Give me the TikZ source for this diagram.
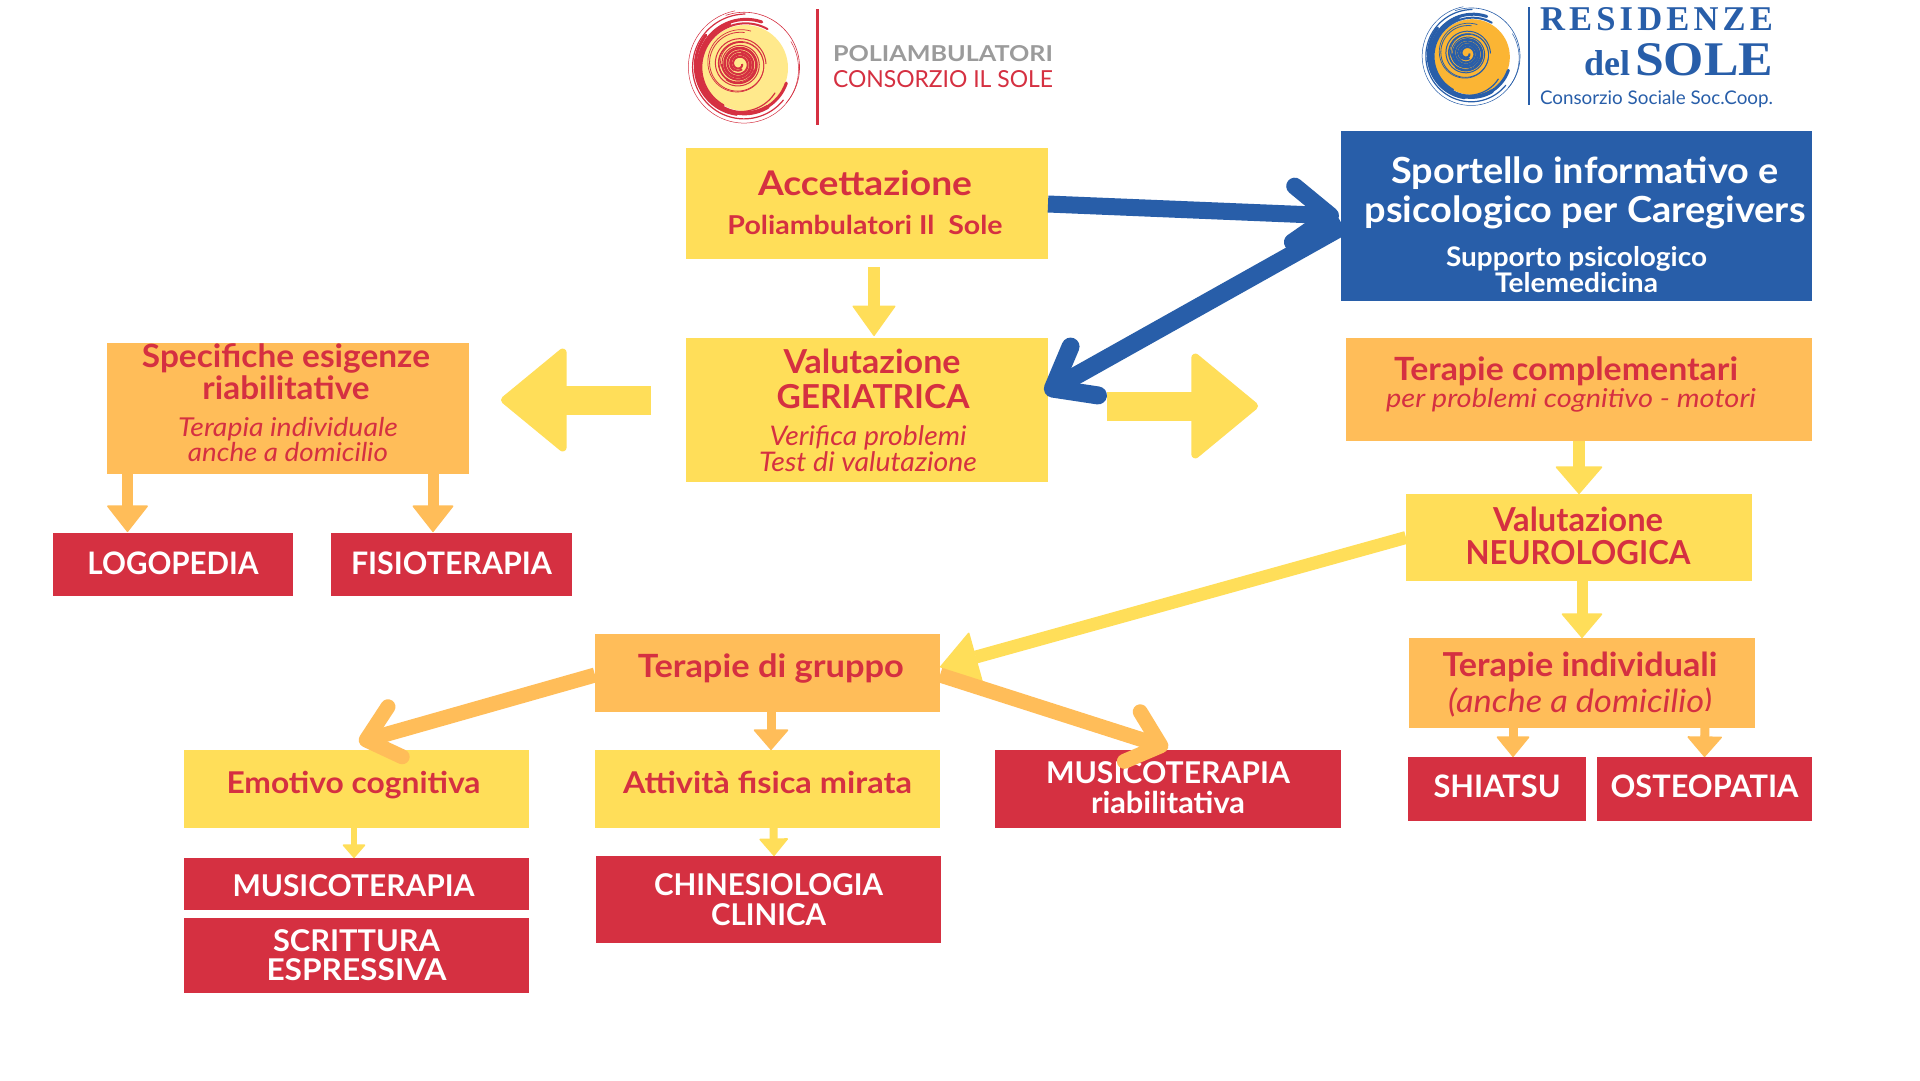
\documentclass[tikz,border=0pt]{standalone}
\usepackage{fontspec}
\setmainfont{Lato}
\newfontfamily\serifbold{Liberation Serif}
\usetikzlibrary{arrows.meta}
\definecolor{cyel}{HTML}{FFDE59}
\definecolor{cora}{HTML}{FFBD59}
\definecolor{cred}{HTML}{D53041}
\definecolor{cblu}{HTML}{285EA9}
\definecolor{cgry}{HTML}{9B9B9B}
\definecolor{lyel}{HTML}{FFE98C}
\definecolor{lora}{HTML}{FBB534}
% one line of text, placed by its baseline relative to the node centre, set to a given width
\newcommand\rl[6]{\raisebox{\dimexpr-#2pt-1pt\relax}[0pt][0pt]{\kern#1pt\makebox[0pt][c]{\resizebox{#3pt}{\height}{\fontsize{#4}{#4}\selectfont#5#6}}\kern-#1pt}}
\newcommand\bdf{\bfseries}
\newcommand\itf{\itshape}
\newcommand\sunlogo[5]{%
\begin{scope}[shift={(#1,#2)},scale=#3]
\fill[#5] (0,0) circle (43);
\foreach \a/\b/\r/\R/\w in {20/290/44/49/3, 60/250/45/47/4, 100/220/47/51/3, 40/270/50/54/1.2, -30/260/53/58/.5, 250/400/56/54/.6, 120/300/43/45/2, 40/110/39/45/1.2}{
 \draw[#4,line width=\w pt,line cap=round] plot[domain=\a:\b,samples=50,smooth] ({(\r+(\R-\r)*(\x-\a)/(\b-\a))*cos(\x)},{(\r+(\R-\r)*(\x-\a)/(\b-\a))*sin(\x)});
}
\begin{scope}[shift={(-6,-4)}]
\foreach \p/\rr/\RR/\w/\e in {0/3/17/2/900, 60/6/18/2/720, 130/8/20/1.8/720, 200/9/22/1.4/800, 280/12/27/1/800, 20/16/32/.8/620, 170/18/35/.7/480}{
 \draw[#4,line width=\w pt] plot[domain=0:\e,samples=90,smooth] ({(\rr+(\RR-\rr)*\x/\e)*cos(\x+\p)},{(\rr+(\RR-\rr)*\x/\e)*sin(\x+\p)});
}
\end{scope}
\end{scope}}
\tikzset{
 x=1pt,y=-1pt,
 boxy/.style n args={3}{rectangle,inner sep=0pt,outer sep=0pt,fill=#1,minimum width=#2pt,minimum height=#3pt},
 redtx/.style={text=cred},
 whtx/.style={text=white},
 block/.style n args={4}{draw=#1,line width=#2pt,-{Triangle[length=#3pt,width=#4pt,round,line width=1.5pt]}},
 bigblock/.style n args={4}{draw=#1,line width=#2pt,-{Triangle[length=#3pt,width=#4pt,round,line width=8pt]}},
 chev/.style n args={4}{draw=#1,line width=#2pt,-{Straight Barb[length=#3pt,width=#4pt,round]}},
 logotx/.style={inner sep=0pt,outer sep=0pt,anchor=base west},
}
\begin{document}
\begin{tikzpicture}
\useasboundingbox (0,0) rectangle (1920,1080);
\fill[white] (0,0) rectangle (1920,1080);
% logos
\sunlogo{745}{68}{1}{cred}{lyel}
\sunlogo{1472}{57}{.88}{cblu}{lora}
\coordinate (pb1) at (817,9); \coordinate (pb2) at (817,125);
\draw[cred,line width=3pt] (pb1) -- (pb2);
\coordinate (rb1) at (1529,7); \coordinate (rb2) at (1529,105);
\draw[cblu,line width=1.5pt] (rb1) -- (rb2);
\node[logotx,text=cgry] (lg1) at (833,61) {\resizebox{220pt}{16pt}{\bfseries POLIAMBULATORI}};
\node[logotx,text=cred] (lg2) at (833,87) {\resizebox{220pt}{17pt}{CONSORZIO IL SOLE}};
\node[logotx,text=cblu] (lg3) at (1540,30) {\resizebox{233pt}{23pt}{\serifbold\bfseries R\kern.12em E\kern.12em S\kern.12em I\kern.12em D\kern.12em E\kern.12em N\kern.12em Z\kern.12em E}};
\node[logotx,text=cblu] (lg4) at (1584,75) {\resizebox{46pt}{!}{\serifbold\bfseries del}};
\node[logotx,text=cblu] (lg5) at (1635,75) {\resizebox{138pt}{32pt}{\serifbold\bfseries SOLE}};
\node[logotx,text=cblu] (lg6) at (1540,104) {\resizebox{233pt}{!}{Consorzio Sociale Soc.Coop.}};
% boxes
\node[boxy={cyel}{362}{111},redtx] (acc) at (867,203.5) {\rl{-2}{-9.5}{214}{34}{\bdf}{Accettazione}\rl{-2}{29.5}{275}{26}{\bdf}{Poliambulatori Il\ \ Sole}};
\node[boxy={cyel}{362}{144},redtx] (val) at (867,410) {\rl{5}{-38}{177}{33}{\bdf}{Valutazione}\rl{6}{-3}{193}{33}{\bdf}{GERIATRICA}\rl{1}{34}{197}{27}{\itf}{Verifica problemi}\rl{1}{60}{218}{27}{\itf}{Test di valutazione}};
\node[boxy={cblu}{471}{170},whtx] (spo) at (1576.5,216) {\rl{8.5}{-34}{387}{36}{\bdf}{Sportello informativo e}\rl{8.5}{5}{441}{36}{\bdf}{psicologico per Caregivers}\rl{0}{49}{261}{27}{\bdf}{Supporto psicologico}\rl{0}{75}{163}{27}{\bdf}{Telemedicina}};
\node[boxy={cora}{362}{131},redtx] (spec) at (288,408.5) {\rl{-2}{-42.5}{288}{32}{\bdf}{Specifiche esigenze}\rl{-2}{-10.5}{167}{32}{\bdf}{riabilitative}\rl{0}{26.5}{220}{26}{\itf}{Terapia individuale}\rl{0}{51.5}{200}{26}{\itf}{anche a domicilio}};
\node[boxy={cora}{466}{103},redtx] (tcomp) at (1579,389.5) {\rl{-13}{-10}{344}{32}{\bdf}{Terapie complementari}\rl{-8}{17}{370}{26}{\itf}{per problemi cognitivo - motori}};
\node[boxy={cyel}{346}{87},redtx] (neuro) at (1579,537.5) {\rl{-1}{-7.5}{170}{33}{\bdf}{Valutazione}\rl{-1}{26}{225}{33}{\bdf}{NEUROLOGICA}};
\node[boxy={cora}{346}{90},redtx] (indiv) at (1582,683) {\rl{-2}{-8}{275}{33}{\bdf}{Terapie individuali}\rl{-2}{28}{264}{32}{\itf}{(anche a domicilio)}};
\node[boxy={cred}{178}{64},whtx] (shi) at (1497,789) {\rl{0}{7}{127}{31}{\bdf}{SHIATSU}};
\node[boxy={cred}{215}{64},whtx] (ost) at (1704.5,789) {\rl{0}{7}{188}{31}{\bdf}{OSTEOPATIA}};
\node[boxy={cred}{240}{63},whtx] (logo) at (173,564.5) {\rl{0}{9}{171}{31}{\bdf}{LOGOPEDIA}};
\node[boxy={cred}{241}{63},whtx] (fis) at (451.5,564.5) {\rl{0}{9}{201}{31}{\bdf}{FISIOTERAPIA}};
\node[boxy={cora}{345}{78},redtx] (grp) at (767.5,673) {\rl{3.5}{3.5}{266}{32}{\bdf}{Terapie di gruppo}};
\node[boxy={cyel}{345}{78},redtx] (emo) at (356.5,789) {\rl{-3}{3.5}{254}{30}{\bdf}{Emotivo cognitiva}};
\node[boxy={cyel}{345}{78},redtx] (att) at (767.5,789) {\rl{0}{3.5}{289}{30}{\bdf}{Attività fisica mirata}};
\node[boxy={cred}{346}{78},whtx] (mriab) at (1168,789) {\rl{0}{-7}{244}{30}{\bdf}{MUSICOTERAPIA}\rl{0}{23}{154}{30}{\bdf}{riabilitativa}};
\node[boxy={cred}{345}{52},whtx] (mus) at (356.5,884) {\rl{-3}{11}{242}{30}{\bdf}{MUSICOTERAPIA}};
\node[boxy={cred}{345}{75},whtx] (scr) at (356.5,955.5) {\rl{0}{-5.5}{167}{30}{\bdf}{SCRITTURA}\rl{0}{23.5}{180}{30}{\bdf}{ESPRESSIVA}};
\node[boxy={cred}{345}{87},whtx] (chi) at (768.5,899.5) {\rl{0}{-5.5}{229}{30}{\bdf}{CHINESIOLOGIA}\rl{0}{24.5}{115}{30}{\bdf}{CLINICA}};
% yellow connectors
\draw[block={cyel}{12}{31}{44}] ([xshift=7pt,yshift=-8pt]acc.south) -- ([xshift=7pt,yshift=2pt]val.north);
\draw[bigblock={cyel}{29}{68}{110}] ([xshift=-35pt,yshift=10pt]val.west) -- ([xshift=-185pt,yshift=10pt]val.west);
\draw[bigblock={cyel}{29}{69}{112}] ([xshift=59pt,yshift=4pt]val.east) -- ([xshift=210pt,yshift=4pt]val.east);
\draw[block={cyel}{12}{28}{48}] (tcomp.south) -- (neuro.north);
\draw[block={cyel}{11}{25}{42}] ([xshift=3pt]neuro.south) -- (indiv.north);
\draw[block={cyel}{13}{38}{52}] (neuro.west) -- ([yshift=6pt]grp.east);
\draw[block={cyel}{6}{14}{24}] ([xshift=-2.5pt]emo.south) -- ([xshift=-2.5pt]mus.north);
\draw[block={cyel}{8}{18}{30}] ([xshift=6pt]att.south) -- ([xshift=5.5pt]chi.north);
% orange connectors
\draw[block={cora}{11}{27}{42}] ([xshift=-160.5pt]spec.south) -- ([xshift=-160.5pt,yshift=-58pt]spec.south);
\draw[block={cora}{11}{27}{42}] ([xshift=145pt]spec.south) -- ([xshift=145pt,yshift=-58pt]spec.south);
\draw[block={cora}{9}{21}{36}] ([xshift=3.5pt]grp.south) -- ([xshift=3.5pt]att.north);
\draw[block={cora}{9}{21}{34}] ([xshift=-69pt,yshift=17pt]indiv.south) -- ([xshift=16pt]shi.north);
\draw[block={cora}{9}{21}{36}] ([xshift=123pt,yshift=17pt]indiv.south) -- (ost.north);
\draw[chev={cora}{15}{30}{52}] ([yshift=-2pt]grp.west) -- ([xshift=2.5pt,yshift=8pt]emo.north);
\draw[chev={cora}{15}{30}{52}] ([yshift=-2pt]grp.east) -- ([yshift=2pt]mriab.north);
% blue connectors
\draw[chev={cblu}{17}{37}{56}] ([yshift=-0.5pt]acc.east) -- ([xshift=-2pt]spo.west);
\draw[chev={cblu}{18}{36}{56}] ([xshift=2pt,yshift=-10pt]spo.west) -- ([xshift=-3pt,yshift=17pt]val.east);
\end{tikzpicture}
\end{document}
